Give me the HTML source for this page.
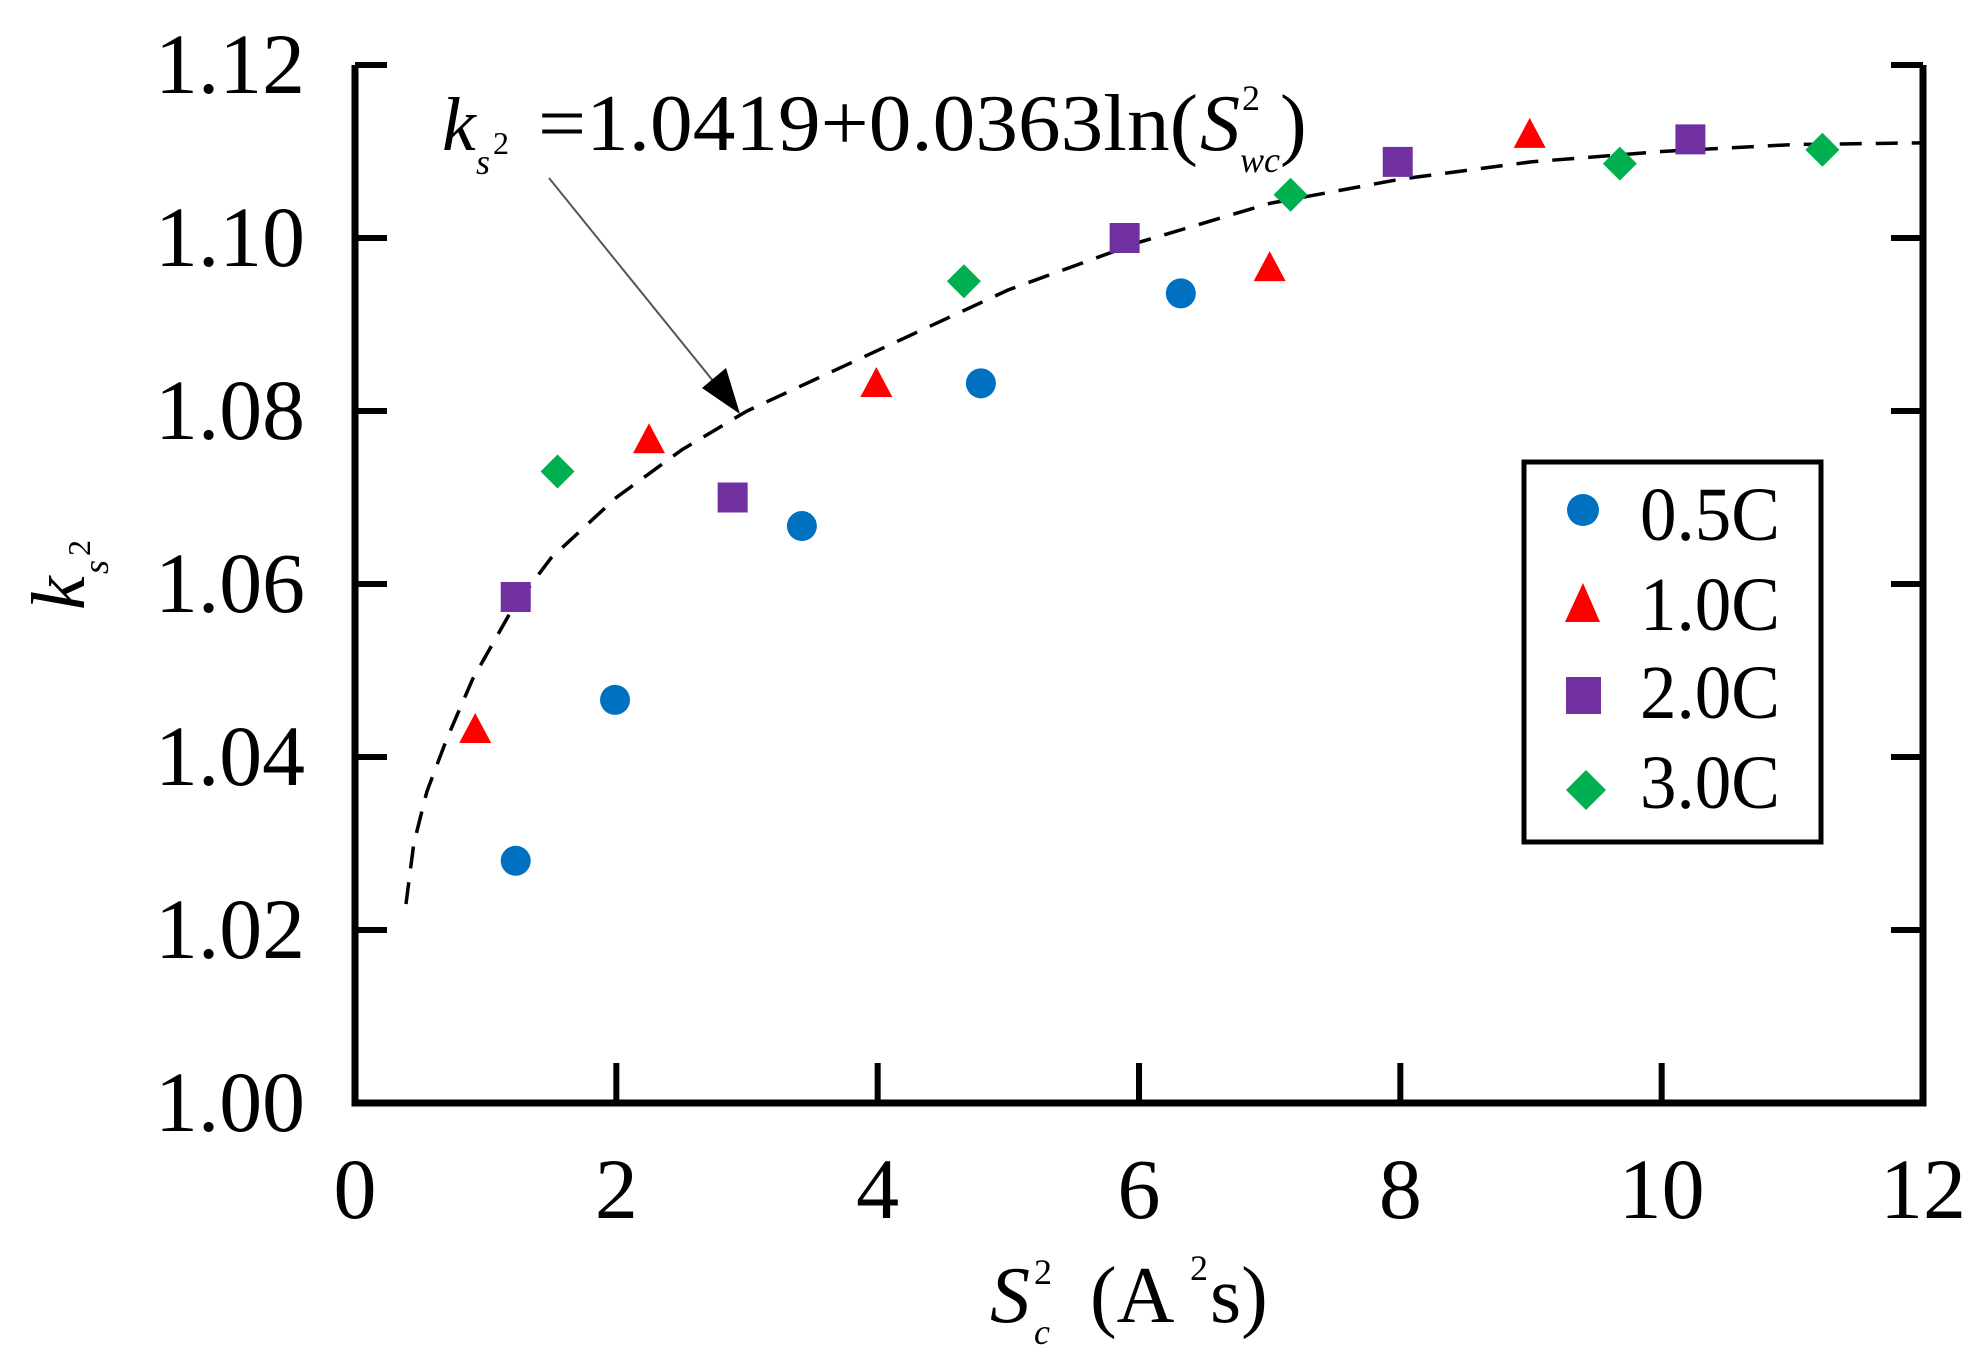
<!DOCTYPE html>
<html><head><meta charset="utf-8"><style>
body{margin:0;background:#fff}
svg{display:block}
text{font-family:"Liberation Serif",serif;fill:#000}
</style></head><body>
<svg id="chart" width="1983" height="1353" viewBox="0 0 1983 1353" xmlns="http://www.w3.org/2000/svg">
<g id="axes"></g>
<g id="curve"></g>
<g id="marks"></g>
<g>
<text x="442" y="150" font-size="76" font-style="italic">k</text>
<text x="476" y="174" font-size="36" font-style="italic">s</text>
<text x="493" y="154" font-size="32">2</text>
<text x="538" y="150" font-size="80" textLength="660" lengthAdjust="spacingAndGlyphs">=1.0419+0.0363ln(</text>
<text x="1200" y="150" font-size="80" font-style="italic">S</text>
<text x="1242" y="110" font-size="36">2</text>
<text x="1240" y="172" font-size="36" font-style="italic">wc</text>
<text x="1280" y="150" font-size="80">)</text>
<line x1="549" y1="178" x2="722" y2="392" stroke="#555" stroke-width="2"/>
<polygon points="740,414 702,388 726,368" fill="#000"/>
</g>
<g>
<rect x="1524" y="462" width="297" height="380" fill="#fff" stroke="#000" stroke-width="5"/>
<circle cx="1583" cy="510" r="16" fill="#0070c0"/>
<text x="1640" y="540" font-size="76" textLength="140" lengthAdjust="spacingAndGlyphs">0.5C</text>
<polygon points="1583,583 1600,622 1565,622" fill="#ff0000"/>
<text x="1640" y="630" font-size="76" textLength="140" lengthAdjust="spacingAndGlyphs">1.0C</text>
<rect x="1566" y="677" width="35" height="37" fill="#7030a0"/>
<text x="1640" y="718" font-size="76" textLength="140" lengthAdjust="spacingAndGlyphs">2.0C</text>
<polygon points="1586,770 1606,790 1586,810 1566,790" fill="#00b050"/>
<text x="1640" y="808" font-size="76" textLength="140" lengthAdjust="spacingAndGlyphs">3.0C</text>
</g>
<g transform="translate(84,610) rotate(-90)">
<text x="0" y="0" font-size="76" font-style="italic">k</text>
<text x="36" y="24" font-size="36" font-style="italic">s</text>
<text x="54" y="6" font-size="32">2</text>
</g>
<g>
<text x="990" y="1322" font-size="80" font-style="italic">S</text>
<text x="1034" y="1344" font-size="36" font-style="italic">c</text>
<text x="1034" y="1284" font-size="36">2</text>
<text x="1090" y="1322" font-size="80">(A</text>
<text x="1190" y="1280" font-size="36">2</text>
<text x="1210" y="1322" font-size="80">s)</text>
</g>
</svg>
<script>
const xTicks=[0,2,4,6,8,10,12];
const yTicks=[1.00,1.02,1.04,1.06,1.08,1.10,1.12];
const x05=[1.23,1.99,3.42,4.79,6.32];
const y05=[1.028,1.0466,1.0667,1.0832,1.0936];
const x10=[0.92,2.25,3.99,7.0,8.99];
const y10=[1.043,1.0765,1.083,1.0964,1.1118];
const x20=[1.23,2.89,5.89,7.98,10.22];
const y20=[1.0585,1.070,1.100,1.1088,1.1114];
const x30=[1.55,4.66,7.16,9.68,11.23];
const y30=[1.073,1.095,1.105,1.1086,1.1102];
const fitX=[0.39,0.45,0.55,0.7,0.9,1.2,1.5,2,2.5,3,4,5,6,7,8,9,10,11,12];
const fitY=[1.023,1.030,1.036,1.042,1.049,1.057,1.063,1.070,1.0755,1.080,1.087,1.094,1.0995,1.104,1.1068,1.1088,1.110,1.1108,1.111];

const L=355,R=1923,T=65,B=1103;
function sx(v){return L+(v-0)/(12-0)*(R-L);}
function sy(v){return B-(v-1.00)/(0.12)*(B-T);}
const NS='http://www.w3.org/2000/svg';
function mk(tag,attrs,parent){const e=document.createElementNS(NS,tag);for(const k in attrs)e.setAttribute(k,attrs[k]);parent.appendChild(e);return e;}
const ax=document.getElementById('axes');
let e=mk('polyline',{points:`${L},${T} ${L},${B} ${R},${B} ${R},${T}`,fill:'none',stroke:'#000','stroke-width':7},ax);


yTicks.forEach(v=>{
  const y=sy(v);
  let t=mk('line',{x1:L,y1:y,x2:L+32,y2:y,stroke:'#000','stroke-width':6},ax);
  
  
  t=mk('line',{x1:R-32,y1:y,x2:R,y2:y,stroke:'#000','stroke-width':6},ax);
  
  
  const tx=mk('text',{x:305,y:y+28,'font-size':86,'text-anchor':'end',textLength:150,lengthAdjust:'spacingAndGlyphs'},ax);
  tx.textContent=v.toFixed(2);
  
  
});
xTicks.forEach(v=>{
  const x=sx(v);
  if(v>0&&v<12){
    const t=mk('line',{x1:x,y1:B,x2:x,y2:B-40,stroke:'#000','stroke-width':6},ax);
    
    
  }
  const tx=mk('text',{x:x,y:1218,'font-size':86,'text-anchor':'middle'},ax);
  tx.textContent=String(v);
  
  
});
const cv=document.getElementById('curve');
const p=mk('polyline',{points:fitX.map((x,i)=>sx(x)+','+sy(fitY[i])).join(' '),fill:'none',stroke:'#000','stroke-width':3.5,'stroke-dasharray':'22,14'},cv);


const mg=document.getElementById('marks');
x05.forEach((x,i)=>{const c=mk('circle',{cx:sx(x),cy:sy(y05[i]),r:15,fill:'#0070c0'},mg);

});
x10.forEach((x,i)=>{const X=sx(x),Y=sy(y10[i]);const c=mk('polygon',{points:`${X},${Y-18} ${X+16},${Y+12} ${X-16},${Y+12}`,fill:'#ff0000'},mg);

});
x20.forEach((x,i)=>{const X=sx(x),Y=sy(y20[i]);const c=mk('rect',{x:X-15,y:Y-15,width:30,height:30,fill:'#7030a0'},mg);

});
x30.forEach((x,i)=>{const X=sx(x),Y=sy(y30[i]);const c=mk('polygon',{points:`${X},${Y-17} ${X+17},${Y} ${X},${Y+17} ${X-17},${Y}`,fill:'#00b050'},mg);

});
</script>
</body></html>
